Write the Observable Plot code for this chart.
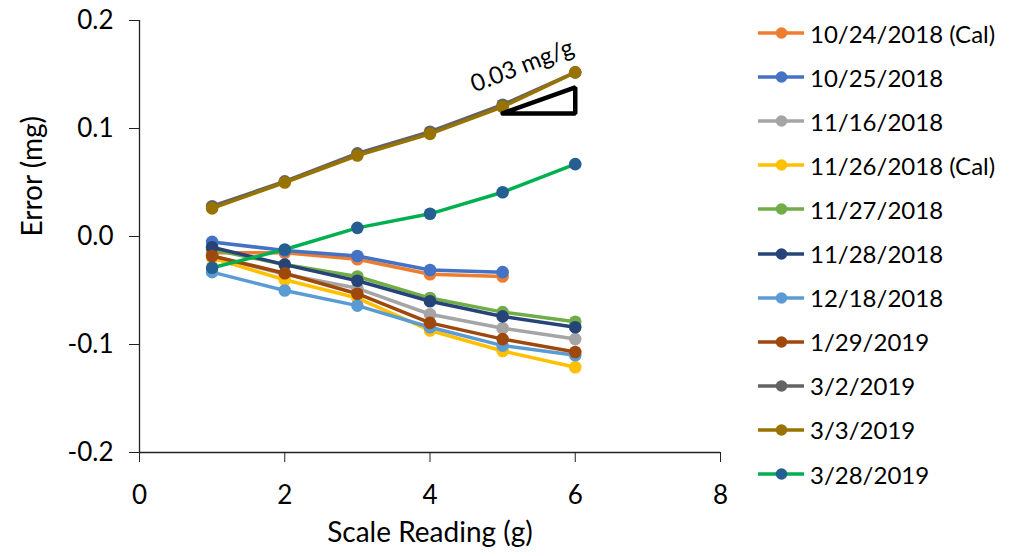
<!DOCTYPE html>
<html>
<head>
<meta charset="utf-8">
<script src="https://cdn.jsdelivr.net/npm/d3@7"></script>
<script src="https://cdn.jsdelivr.net/npm/@observablehq/plot@0.6"></script>
<style>
  html, body { margin: 0; padding: 0; background: #fff; }
  #wrap { position: relative; width: 1020px; height: 556px; font-family: Lato, "Open Sans", sans-serif; }
  #legend { position: absolute; left: 758px; top: 0; }
  .row { position: absolute; left: 0; height: 30px; display: flex; align-items: center; white-space: nowrap; font-size: 24px; color: #000; }
  .row svg { margin-right: 6px; }
</style>
</head>
<body>
<div id="wrap"><div id="chart"></div><div id="legend"></div></div>
<script>
// ---- data ----
const xValues = [1, 2, 3, 4, 5, 6];
const seriesNames = ["10/24/2018 (Cal)", "10/25/2018", "11/16/2018", "11/26/2018 (Cal)", "11/27/2018", "11/28/2018", "12/18/2018", "1/29/2019", "3/2/2019", "3/3/2019", "3/28/2019"];
const s20181024 = [-0.015, -0.015, -0.021, -0.035, -0.037];
const s20181025 = [-0.005, -0.013, -0.018, -0.031, -0.033];
const s20181116 = [-0.018, -0.035, -0.048, -0.072, -0.085, -0.095];
const s20181126 = [-0.020, -0.040, -0.057, -0.087, -0.106, -0.121];
const s20181127 = [-0.012, -0.026, -0.037, -0.057, -0.070, -0.079];
const s20181128 = [-0.010, -0.026, -0.041, -0.060, -0.074, -0.084];
const s20181218 = [-0.033, -0.050, -0.064, -0.084, -0.101, -0.110];
const s20190129 = [-0.018, -0.034, -0.053, -0.080, -0.095, -0.107];
const s20190302 = [0.028, 0.051, 0.077, 0.097, 0.122, 0.152];
const s20190303 = [0.026, 0.050, 0.075, 0.095, 0.120, 0.152];
const s20190328 = [-0.029, -0.012, 0.008, 0.021, 0.041, 0.067];
const seriesValues = [s20181024, s20181025, s20181116, s20181126, s20181127, s20181128, s20181218, s20190129, s20190302, s20190303, s20190328];
const lineColors = ["#ED7D31", "#4472C4", "#A5A5A5", "#FFC000", "#70AD47", "#264478", "#5B9BD5", "#9E480E", "#636363", "#997300", "#00B050"];
const markerColors = ["#ED7D31", "#4472C4", "#A5A5A5", "#FFC000", "#70AD47", "#264478", "#5B9BD5", "#9E480E", "#636363", "#997300", "#255E91"];
const xTicks = [0, 2, 4, 6, 8];
const yTicks = [-0.2, -0.1, 0.0, 0.1, 0.2];
// slope triangle annotation
const triX = [5, 6, 6, 5];
const triY = [0.114, 0.114, 0.138, 0.114];
const noteText = ["0.03 mg/g"];
const noteX = [5.27];
const noteY = [0.158];

// ---- build ----
const series = seriesNames.map((name, k) => ({
  name,
  line: lineColors[k],
  marker: markerColors[k],
  rows: seriesValues[k].map((v, i) => ({x: xValues[i], y: v}))
}));
const tri = triX.map((x, i) => ({x, y: triY[i]}));
const note = noteText.map((t, i) => ({t, x: noteX[i], y: noteY[i]}));

const marks = [];
marks.push(Plot.ruleX([0], {y1: -0.2, y2: 0.2, stroke: "#222", strokeWidth: 1.3}));
marks.push(Plot.ruleY([-0.2], {x1: 0, x2: 8, stroke: "#222", strokeWidth: 1.3}));
marks.push(Plot.axisY({ticks: yTicks, tickFormat: d => d.toFixed(1), tickSize: 10, tickPadding: 16, label: null, fontSize: 26, stroke: "#222"}));
marks.push(Plot.axisX({ticks: xTicks, tickFormat: d => String(d), tickSize: 10, tickPadding: 23, label: null, fontSize: 26, stroke: "#222"}));
for (const s of series) {
  marks.push(Plot.line(s.rows, {x: "x", y: "y", stroke: s.line, strokeWidth: 3.5}));
  marks.push(Plot.dot(s.rows, {x: "x", y: "y", r: 6.3, fill: s.marker, stroke: "none"}));
}
marks.push(Plot.line(tri, {x: "x", y: "y", stroke: "#000", strokeWidth: 4.5, strokeLinejoin: "miter"}));
marks.push(Plot.text(note, {x: "x", y: "y", text: "t", rotate: -21, fontSize: 24, fill: "#000"}));
marks.push(Plot.text(["Scale Reading (g)"], {frameAnchor: "bottom", dy: 89, fontSize: 28, fill: "#000"}));
marks.push(Plot.text(["Error (mg)"], {frameAnchor: "left", dx: -106, rotate: -90, fontSize: 28, fill: "#000"}));

const chart = Plot.plot({
  width: 1020,
  height: 556,
  marginLeft: 139,
  marginRight: 300,
  marginTop: 20,
  marginBottom: 104,
  x: {domain: [0, 8]},
  y: {domain: [-0.2, 0.2]},
  style: {fontFamily: "Lato, 'Open Sans', sans-serif", color: "#000", background: "#fff", overflow: "visible"},
  marks
});
document.getElementById("chart").appendChild(chart);

// ---- legend ----
const legend = document.getElementById("legend");
const rowCenters0 = 33, rowStep = 44.1;
series.forEach((s, k) => {
  const row = document.createElement("div");
  row.className = "row";
  row.style.top = (rowCenters0 + k * rowStep - 15) + "px";
  row.innerHTML = `<svg width="46" height="14" viewBox="0 0 46 14"><line x1="0" y1="7" x2="46" y2="7" stroke="${s.line}" stroke-width="3.5"/><circle cx="23.5" cy="7" r="5.8" fill="${s.marker}"/></svg><span>${s.name}</span>`;
  legend.appendChild(row);
});
</script>
</body>
</html>
